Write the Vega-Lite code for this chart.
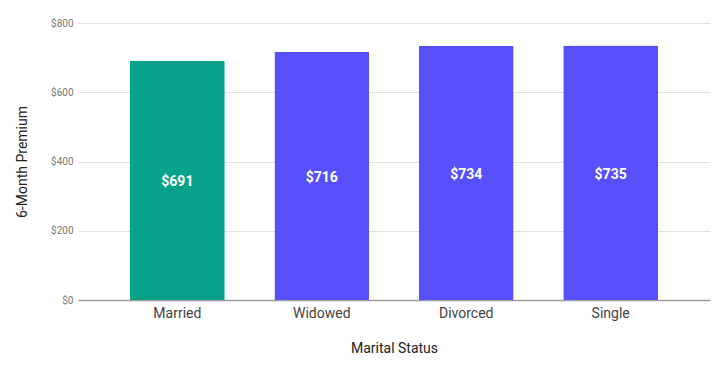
{
  "$schema": "https://vega.github.io/schema/vega-lite/v6.json",
  "autosize": "none",
  "width": 632,
  "height": 277,
  "padding": {"left": 78, "top": 23, "right": 5, "bottom": 67},
  "background": "white",
  "config": {"view": {"stroke": null}, "font": "Roboto"},
  "data": {"values": [
    {"status": "Married", "premium": 691, "group": "a"},
    {"status": "Widowed", "premium": 716, "group": "b"},
    {"status": "Divorced", "premium": 734, "group": "b"},
    {"status": "Single", "premium": 735, "group": "b"}
  ]},
  "encoding": {
    "x": {"field": "status", "type": "nominal", "sort": null,
      "scale": {"paddingInner": 0.344, "paddingOuter": 0.36},
      "axis": {"title": "Marital Status", "labelAngle": 0, "labelFontSize": 14, "labelColor": "#444444", "labelPadding": 6, "ticks": false, "domainColor": "#9e9e9e", "domainWidth": 1.5, "titleFontSize": 14, "titleFontWeight": "normal", "titleColor": "#222222", "titlePadding": 21}},
    "y": {"field": "premium", "type": "quantitative",
      "scale": {"domain": [0, 800]},
      "axis": {"title": "6-Month Premium", "values": [0, 200, 400, 600, 800], "format": "$,d", "labelFontSize": 10, "labelColor": "#777777", "labelPadding": 5, "ticks": false, "domain": false, "gridColor": "#e0e0e0", "titleFontSize": 14, "titleFontWeight": "normal", "titleColor": "#222222", "titlePadding": 21}}
  },
  "layer": [
    {"mark": {"type": "bar", "cornerRadius": 1},
      "encoding": {"color": {"field": "group", "type": "nominal", "legend": null,
        "scale": {"domain": ["a", "b"], "range": ["#06a289", "#574ffa"]}}}},
    {"mark": {"type": "text", "color": "white", "fontSize": 14, "fontWeight": "bold", "baseline": "middle", "dy": 2},
      "transform": [{"calculate": "datum.premium / 2", "as": "mid"}],
      "encoding": {"y": {"field": "mid", "type": "quantitative"}, "text": {"field": "premium", "type": "quantitative", "format": "$,d"}}}
  ]
}
